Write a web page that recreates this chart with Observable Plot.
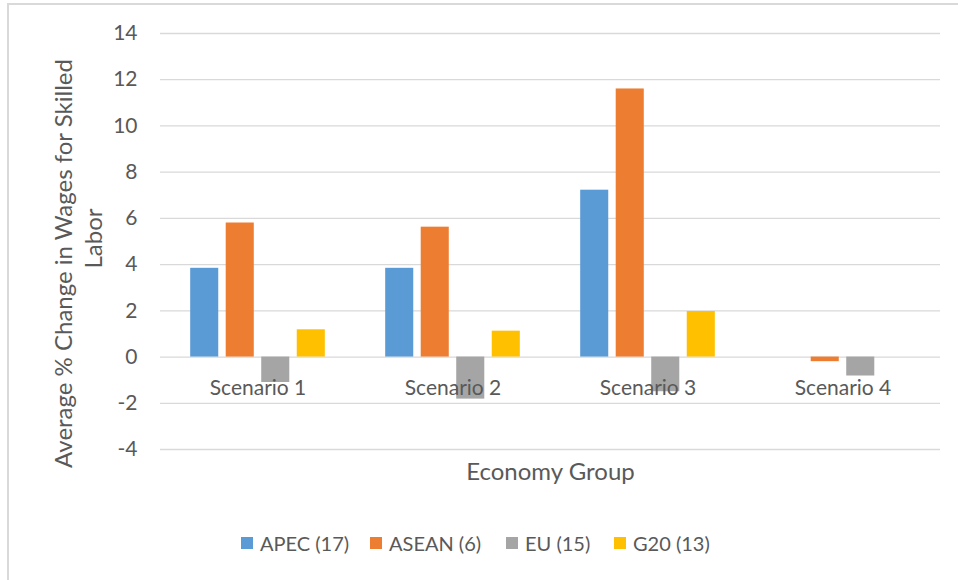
<!DOCTYPE html>
<html>
<head>
<meta charset="utf-8">
<script src="https://cdn.jsdelivr.net/npm/d3@7"></script>
<script src="https://cdn.jsdelivr.net/npm/@observablehq/plot@0.6"></script>
<style>
  body { margin:0; width:958px; height:580px; overflow:hidden; position:relative; background:#fff; font-family: Lato, "Open Sans", sans-serif; color:#595959; }
  .frame { position:absolute; left:7px; top:3px; width:1000px; height:1000px; border:2px solid #d9d9d9; }
  #chart { position:absolute; left:0; top:0; }
  .ytitle { position:absolute; font-size:24px; white-space:nowrap; transform-origin:center center; }
  .xtitle { position:absolute; left:0; width:1101px; top:456px; text-align:center; font-size:24px; }
  .legend { position:absolute; top:529px; left:0; height:28px; font-size:20px; }
  .legend .item { position:absolute; top:0; white-space:nowrap; display:flex; align-items:center; height:28px; }
  .legend .sw { width:12px; height:12px; margin-right:7px; display:inline-block; }
</style>
</head>
<body>
<div class="frame"></div>
<div id="chart"></div>
<div id="yt1" class="ytitle">Average % Change in Wages for Skilled</div>
<div id="yt2" class="ytitle">Labor</div>
<div class="xtitle">Economy Group</div>
<div class="legend" id="legend"></div>
<script>
const scenarios = ["Scenario 1", "Scenario 2", "Scenario 3", "Scenario 4"];
const groups = ["APEC (17)", "ASEAN (6)", "EU (15)", "G20 (13)"];
const apec  = [3.84, 3.84, 7.22, 0];
const asean = [5.80, 5.62, 11.60, -0.20];
const eu    = [-1.10, -1.82, -1.50, -0.82];
const g20   = [1.18, 1.12, 1.97, 0];
const colors = ["#5b9bd5", "#ed7d31", "#a5a5a5", "#ffc000"];
const yTicks = [-4, -2, 0, 2, 4, 6, 8, 10, 12, 14];

const series = [apec, asean, eu, g20];
const data = [];
scenarios.forEach((s, i) => {
  groups.forEach((g, j) => {
    data.push({scenario: s, group: g, value: series[j][i]});
  });
});
const labelRows = scenarios.map(s => ({scenario: s, zero: 0}));

const chart = Plot.plot({
  width: 958,
  height: 500,
  marginLeft: 160,
  marginRight: 18,
  marginTop: 33,
  marginBottom: 51,
  style: {fontFamily: "Lato, 'Open Sans', sans-serif", color: "#595959", background: "transparent"},
  fx: {domain: scenarios, padding: 0, round: false, axis: null},
  x: {domain: groups, paddingInner: 0.21, paddingOuter: 0.85, round: false, axis: null},
  y: {domain: [-4, 14], axis: null},
  color: {domain: groups, range: colors},
  marks: [
    Plot.ruleY(yTicks, {stroke: "#d9d9d9", strokeWidth: 1.3}),
    Plot.barY(data, {fx: "scenario", x: "group", y: "value", fill: "group"}),
    Plot.axisY({ticks: yTicks, tickSize: 0, tickPadding: 23, fontSize: 21, label: null, fill: "#595959", tickFormat: d => String(d)}),
    Plot.text(labelRows, {fx: "scenario", y: "zero", text: "scenario", dy: 31, fontSize: 21, fill: "#595959"})
  ]
});
document.getElementById("chart").appendChild(chart);

// y-axis title lines, rotated
function placeRot(id, cx, cy) {
  const el = document.getElementById(id);
  const w = el.offsetWidth, h = el.offsetHeight;
  el.style.left = (cx - w / 2) + "px";
  el.style.top = (cy - h / 2) + "px";
  el.style.transform = "rotate(-90deg)";
}
placeRot("yt1", 62, 263);
placeRot("yt2", 92, 238);

// legend
const legendX = [241, 370, 506, 614];
const legend = document.getElementById("legend");
groups.forEach((g, i) => {
  const item = document.createElement("div");
  item.className = "item";
  item.style.left = legendX[i] + "px";
  const sw = document.createElement("span");
  sw.className = "sw";
  sw.style.background = colors[i];
  const tx = document.createElement("span");
  tx.textContent = g;
  item.appendChild(sw);
  item.appendChild(tx);
  legend.appendChild(item);
});
</script>
</body>
</html>
